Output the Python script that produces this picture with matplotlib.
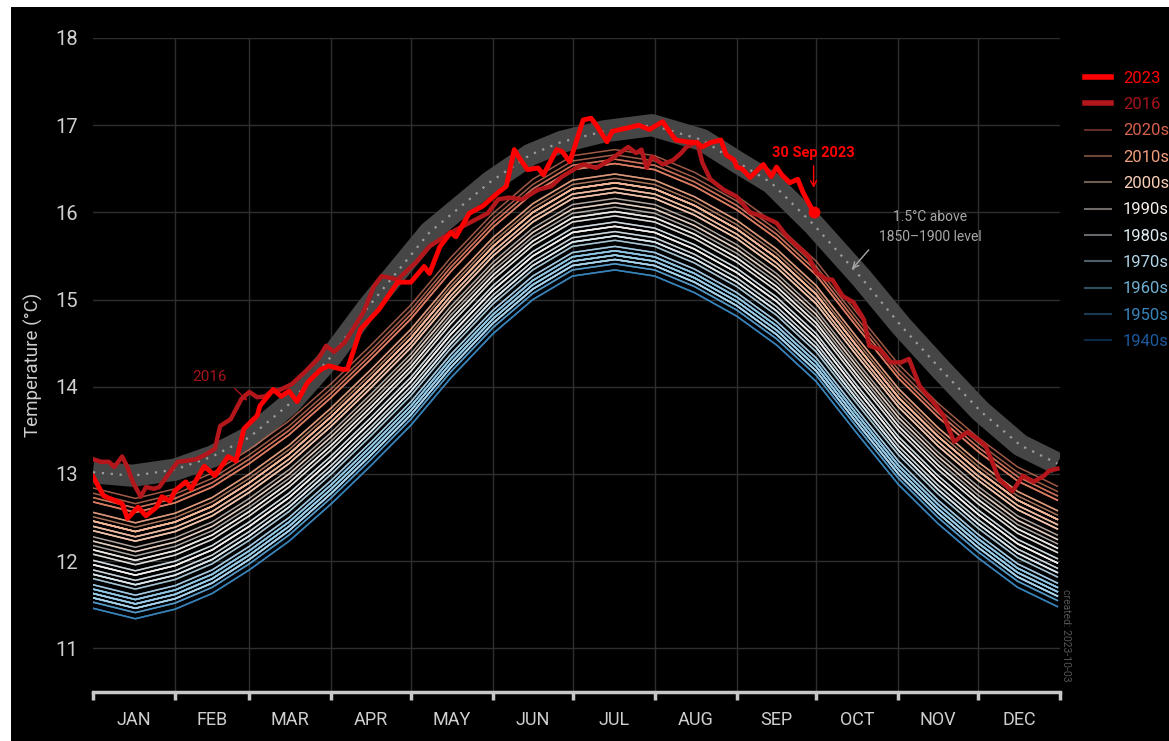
import numpy as np
import matplotlib
matplotlib.use('Agg')
import matplotlib.pyplot as plt
from matplotlib.lines import Line2D
from matplotlib.patches import Rectangle

plt.rcParams['font.family'] = ['Roboto', 'DejaVu Sans']

# ---- data ----
month_names = ['JAN', 'FEB', 'MAR', 'APR', 'MAY', 'JUN', 'JUL', 'AUG', 'SEP', 'OCT', 'NOV', 'DEC']
month_starts = [0, 31, 59, 90, 120, 151, 181, 212, 243, 273, 304, 334, 365]

# middle of the 1940-2022 bundle of yearly curves
clim_days = [0, 16, 31, 45, 59, 74, 90, 105, 120, 135, 151, 166, 181, 197, 212, 227, 243, 258, 273, 288, 304, 319, 334, 349, 364]
clim_mid = [12.18, 12.06, 12.17, 12.35, 12.62, 12.95, 13.38, 13.82, 14.28, 14.82, 15.33, 15.72, 15.99, 16.06, 15.99, 15.8,
            15.53, 15.2, 14.78, 14.2, 13.6, 13.15, 12.76, 12.42, 12.2]

# yearly offset of each background year from that middle curve
bg_years = [y for y in range(1940, 2023) if y != 2016]
bg_anom = [-0.5, -0.5, -0.55, -0.55, -0.45, -0.5, -0.6, -0.6, -0.6, -0.65,
           -0.72, -0.6, -0.6, -0.55, -0.65, -0.72, -0.72, -0.55, -0.5, -0.55,
           -0.55, -0.5, -0.5, -0.5, -0.65, -0.6, -0.55, -0.55, -0.55, -0.45,
           -0.5, -0.6, -0.5, -0.38, -0.6, -0.55, -0.6, -0.38, -0.45, -0.33,
           -0.28, -0.22, -0.33, -0.17, -0.33, -0.33, -0.28, -0.17, -0.1, -0.22,
           -0.05, -0.05, -0.22, -0.22, -0.1, 0.0, -0.05, 0.1, 0.28, 0.05,
           0.05, 0.17, 0.22, 0.22, 0.17, 0.28, 0.28, 0.28, 0.17, 0.28,
           0.38, 0.22, 0.28, 0.33, 0.38, 0.5, 0.55, 0.5, 0.6,
           0.66, 0.5, 0.55]

# 1.5 C above 1850-1900 level
band_days = [0, 15, 31, 45, 59, 74, 90, 104, 127, 150, 165, 177, 193, 211, 230, 243, 256, 272, 290, 305, 320, 335, 350, 364]
band_vals = [13.02, 12.98, 13.05, 13.2, 13.42, 13.8, 14.35, 14.92, 15.77, 16.35, 16.66, 16.81, 16.93, 17.0, 16.83, 16.58,
             16.34, 15.86, 15.25, 14.7, 14.2, 13.72, 13.33, 13.12]

d2023 = [0, 4, 11, 13, 17, 20, 24, 26, 29, 31, 35, 37, 42, 46, 51, 54, 57, 62, 63, 68,
         71, 74, 77, 81, 86, 89, 94, 96, 101, 108, 115, 120, 125, 127, 131, 135, 137, 142, 147, 153,
         156, 159, 161, 164, 168, 170, 175, 177, 180, 185, 188, 190, 194, 196, 202, 206, 210, 215, 218, 220,
         224, 228, 230, 233, 237, 239, 242, 243, 245, 248, 251, 253, 256, 258, 260, 263, 266, 268, 272]
t2023 = [12.97, 12.75, 12.66, 12.49, 12.62, 12.52, 12.62, 12.74, 12.69, 12.81, 12.91, 12.83, 13.09, 12.98, 13.2, 13.15,
         13.52, 13.67, 13.78, 13.97, 13.89, 13.95, 13.83, 14.05, 14.2, 14.24, 14.2, 14.2, 14.66, 14.89, 15.2, 15.2,
         15.38, 15.3, 15.61, 15.77, 15.72, 15.99, 16.07, 16.23, 16.3, 16.72, 16.62, 16.49, 16.51, 16.43, 16.72, 16.7,
         16.58, 17.06, 17.08, 17.0, 16.81, 16.93, 16.97, 17.0, 16.95, 17.04, 16.91, 16.83, 16.81, 16.8, 16.75, 16.8,
         16.83, 16.66, 16.6, 16.52, 16.5, 16.4, 16.49, 16.55, 16.41, 16.52, 16.43, 16.34, 16.38, 16.23, 16.0]

d2016 = [0, 3, 6, 8, 11, 13, 15, 18, 20, 23, 25, 29, 32, 35, 39, 43, 46, 48, 52, 56,
         59, 62, 65, 67, 71, 75, 80, 85, 88, 91, 95, 102, 106, 109, 115, 122, 127, 131, 137, 149,
         153, 157, 162, 168, 173, 177, 183, 185, 190, 195, 202, 205, 207, 209, 211, 215, 219, 222, 224, 228,
         230, 233, 238, 243, 248, 253, 258, 262, 266, 270, 273, 277, 279, 283, 287, 291, 293, 297, 301, 305,
         308, 312, 317, 321, 325, 330, 334, 337, 342, 347, 351, 355, 359, 361, 364]
t2016 = [13.17, 13.14, 13.14, 13.08, 13.2, 13.08, 12.91, 12.74, 12.85, 12.83, 12.85, 13.02, 13.14, 13.15, 13.17, 13.23,
         13.29, 13.55, 13.63, 13.86, 13.94, 13.88, 13.89, 13.94, 13.97, 14.03, 14.17, 14.32, 14.47, 14.4, 14.51, 14.85,
         15.15, 15.27, 15.23, 15.43, 15.61, 15.69, 15.8, 15.99, 16.15, 16.17, 16.15, 16.26, 16.3, 16.41, 16.52, 16.55,
         16.51, 16.6, 16.75, 16.68, 16.72, 16.51, 16.64, 16.55, 16.6, 16.68, 16.75, 16.81, 16.57, 16.38, 16.26, 16.18,
         16.0, 15.95, 15.88, 15.72, 15.61, 15.5, 15.31, 15.23, 15.23, 15.04, 14.97, 14.77, 14.47, 14.43, 14.28, 14.28,
         14.32, 14.01, 13.83, 13.67, 13.37, 13.48, 13.4, 13.32, 12.94, 12.8, 12.98, 12.91, 12.98, 13.04, 13.06]

decades = [2020, 2010, 2000, 1990, 1980, 1970, 1960, 1950, 1940]

# ---- colours ----
cmap = plt.get_cmap('RdBu_r')
def year_color(y):
    return cmap(0.08 + 0.72 * (y - 1945) / 80)

red23 = '#ff0000'
red16 = '#b3161b'
grid_c = '#2e2e2e'
txt_c = '#cfcfcf'

# ---- figure ----
W, H = 1169, 741
fig = plt.figure(figsize=(W / 100, H / 100), dpi=100, facecolor='white')
fig.patches.append(Rectangle((11 / W, 0), 1 - 11 / W, 1 - 7 / H, transform=fig.transFigure,
                             facecolor='black', edgecolor='none', zorder=-10))

ax = fig.add_axes([93 / W, 1 - 692 / H, 967 / W, 654 / H])
ax.set_facecolor('black')
ax.set_xlim(0, 365)
ax.set_ylim(10.5, 18)

# grid
for yv in range(11, 19):
    ax.axhline(yv, color=grid_c, lw=1, zorder=0)
for m in month_starts[1:-1]:
    ax.axvline(m, color=grid_c, lw=1, zorder=0)

# 1.5 C band and dotted line
ax.plot(band_days, band_vals, color='#464646', lw=16, solid_capstyle='butt', solid_joinstyle='round', zorder=1)
ax.plot(band_days, band_vals, color='#9c9c9c', lw=1.6, ls=(0, (1, 3)), zorder=3)

# background years
for yr, an in zip(bg_years, bg_anom):
    ax.plot(clim_days, np.array(clim_mid) + an, color=year_color(yr), lw=1.1, alpha=0.7, zorder=2,
            solid_joinstyle='round')

ax.plot(d2016, t2016, color=red16, lw=3.2, zorder=4, solid_joinstyle='round')
ax.plot(d2023, t2023, color=red23, lw=3.5, zorder=5, solid_joinstyle='round')
ax.plot(d2023[-1], t2023[-1], 'o', color=red23, ms=7.5, zorder=6)

# annotations
ax.annotate('30 Sep 2023', xy=(d2023[-1], 16.28), xytext=(d2023[-1], 16.60), ha='center', va='bottom',
            color=red23, fontsize=10.5, fontweight='bold',
            arrowprops=dict(arrowstyle='->', color=red23, lw=1, shrinkA=2, shrinkB=0), zorder=7)
ax.text(316, 15.83, '1.5°C above\n1850–1900 level', ha='center', va='center', color='#a8a8a8',
        fontsize=10, linespacing=1.5)
ax.annotate('', xy=(286.5, 15.35), xytext=(292.8, 15.57),
            arrowprops=dict(arrowstyle='->', color='#a8a8a8', lw=1, shrinkA=0, shrinkB=0))
ax.text(44, 14.11, '2016', ha='center', va='center', color='#a3141a', fontsize=11)
ax.annotate('', xy=(58.3, 13.84), xytext=(53.5, 13.98),
            arrowprops=dict(arrowstyle='->', color='#a3141a', lw=1, shrinkA=0, shrinkB=0))

# axes styling
for s in ['left', 'top', 'right']:
    ax.spines[s].set_visible(False)
ax.spines['bottom'].set_color('#c8c8c8')
ax.spines['bottom'].set_linewidth(2.5)
ax.set_xticks(month_starts)
ax.set_xticklabels([])
ax.set_xticks([(month_starts[i] + month_starts[i + 1]) / 2 for i in range(12)], minor=True)
ax.set_xticklabels(month_names, minor=True)
ax.tick_params(axis='x', which='major', direction='out', length=6, width=2.5, color='#c8c8c8')
ax.tick_params(axis='x', which='minor', length=0, pad=14, labelsize=13, labelcolor=txt_c)
ax.set_yticks(range(11, 19))
ax.tick_params(axis='y', length=0, pad=11, labelsize=14.5, labelcolor=txt_c)
ax.set_ylabel('Temperature (°C)', color=txt_c, fontsize=13.5)
ax.yaxis.set_label_coords(-50 / 967, 0.5)

# legend
handles = [Line2D([], [], color=red23, lw=4), Line2D([], [], color=red16, lw=4)]
labels = ['2023', '2016']
text_cols = [red23, '#a3141a']
for dec in decades:
    c = year_color(dec + 5)
    handles.append(Line2D([], [], color=c, lw=1.5, alpha=0.45))
    labels.append(f'{dec}s')
    text_cols.append(c)
leg = fig.legend(handles, labels, loc='upper left', bbox_to_anchor=(1078 / W, 1 - 64 / H), frameon=False,
                 fontsize=12, handlelength=1.6, handletextpad=0.7, labelspacing=0.68, borderaxespad=0)
for t, c in zip(leg.get_texts(), text_cols):
    t.set_color(c)

fig.text(1066 / W, 1 - 635 / H, 'created: 2023-10-03', rotation=270, ha='center', va='center',
         color='#555555', fontsize=7.5)

fig.savefig('out.png', dpi=100, facecolor=fig.get_facecolor())
